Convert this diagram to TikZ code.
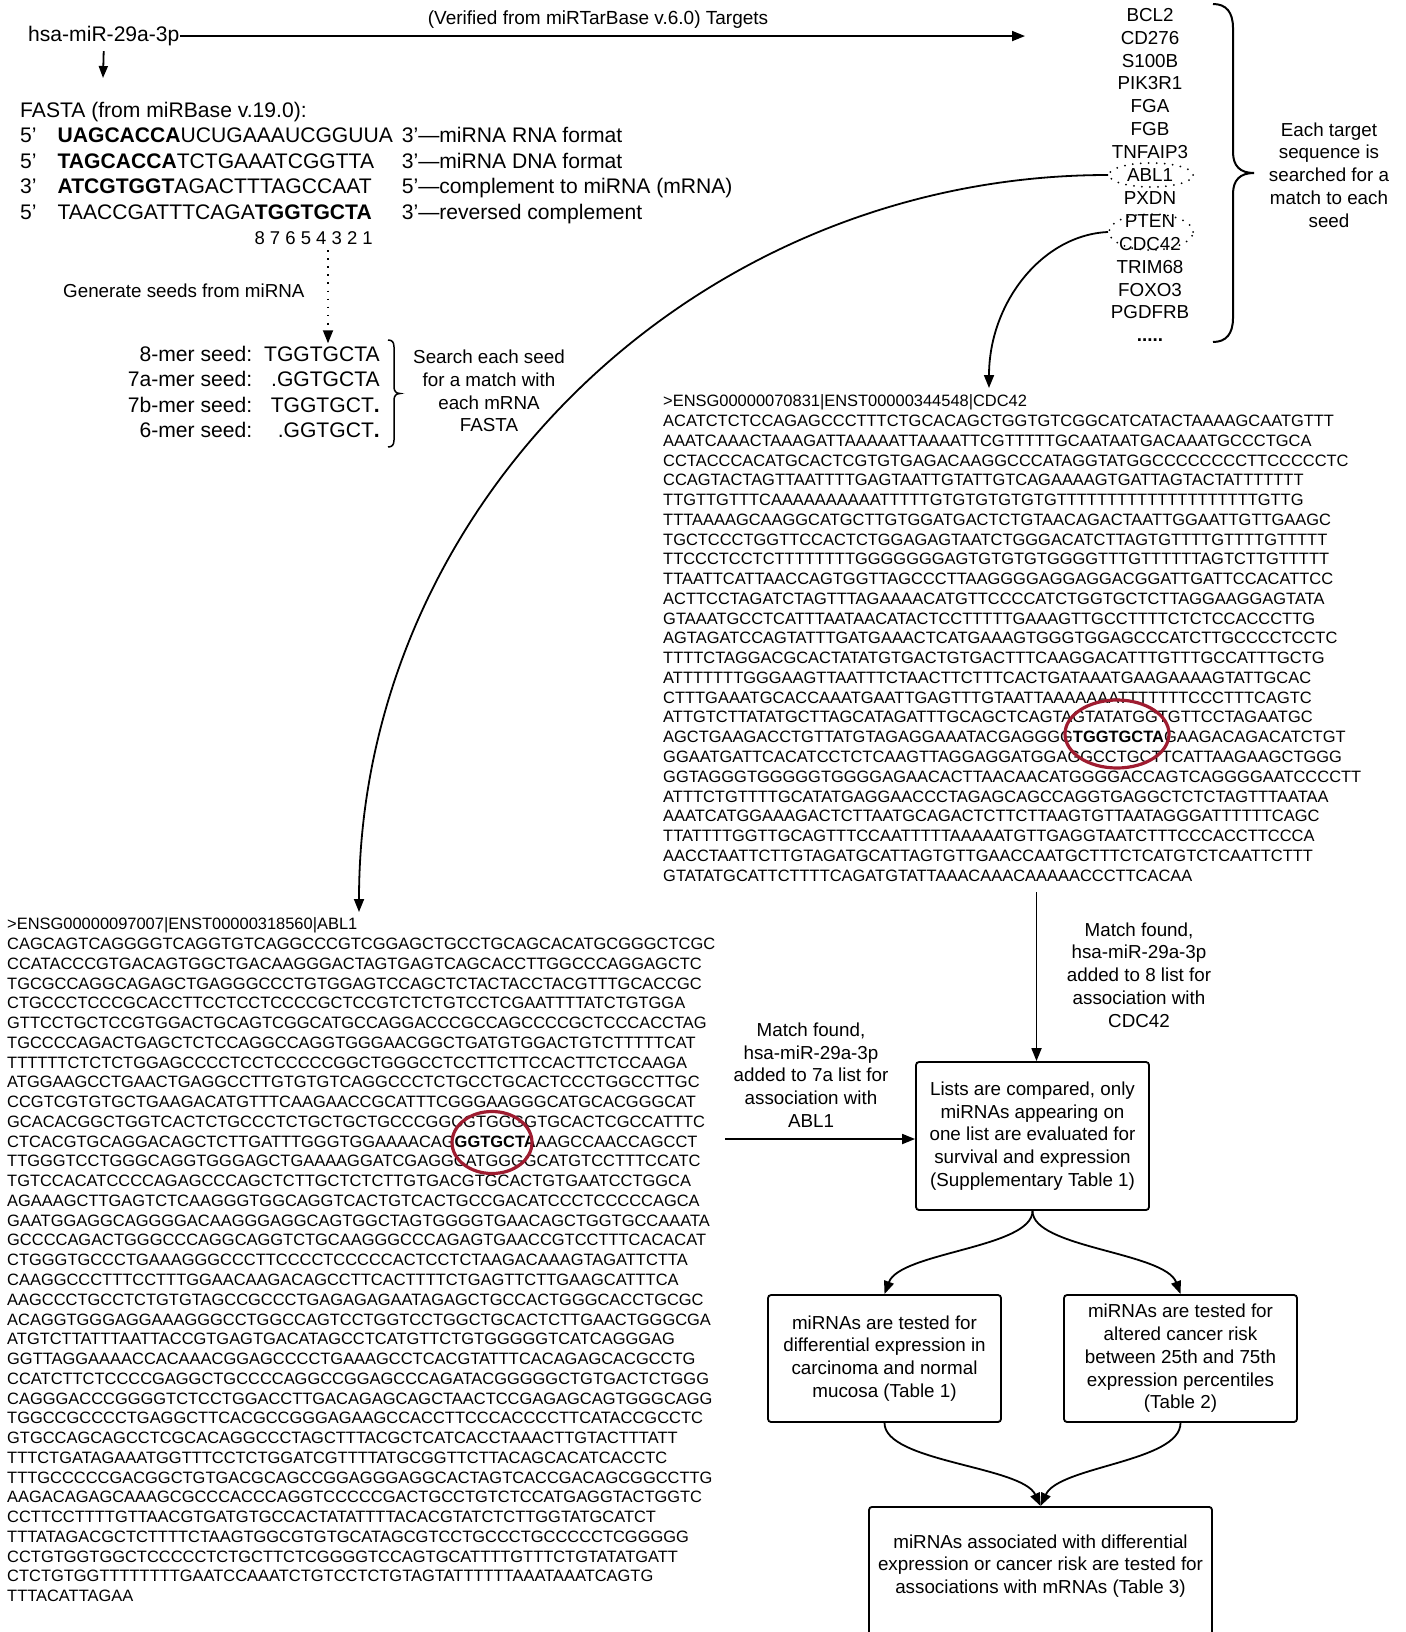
\documentclass[tikz,border=0pt]{standalone}
\usepackage{fontspec}
\setmainfont{Liberation Sans}
\usepackage{tikz}
\usetikzlibrary{arrows.meta,shapes.geometric}
\definecolor{hitRed}{RGB}{158,28,48}
\newcommand\seqfont{\fontsize{16.45}{19.76}\selectfont}
\newcommand\bigfont{\fontsize{21.1}{25.5}\selectfont}
\newcommand\lblfont{\fontsize{18.8}{22.8}\selectfont}

\begin{document}
\begin{tikzpicture}[x=1pt,y=-1pt,
      font=\lblfont, >={Triangle[length=13pt,width=10pt]},
      lbl/.style={align=center,inner sep=0pt,font=\lblfont},
      blk/.style={inner sep=0pt,anchor=base west},
      seq/.style={inner sep=0pt,anchor=base west,font=\seqfont},
      bx/.style={draw,line width=1.8pt,rounded corners=3pt,align=center,
                 minimum width=233pt,inner sep=0pt,font=\lblfont},
      pick/.style={ellipse,draw,line width=2pt,dash pattern=on 0pt off 8pt,line cap=round,
                   minimum width=84pt,minimum height=24pt,inner sep=0pt},
      hit/.style={ellipse,draw=hitRed,line width=3.2pt,inner sep=0pt},
      ar/.style={->,line width=1.8pt}]

    \useasboundingbox (0,0) rectangle (1405,1632);
    \clip (0,0) rectangle (1405,1632);

    \node[blk,font=\bigfont] (mir) at (28,41.5) {hsa-miR-29a-3p};
    \coordinate (tgt) at (1025,37);
    \draw[ar] (mir.east) -- (mir.east -| tgt);
    \node[lbl,font=\fontsize{19}{22}\selectfont] (via) at (598,20) {(Verified from miRTarBase v.6.0) Targets};
    \coordinate (fain) at (103,78);
    \draw[ar,shorten <=5pt,-{Triangle[length=12pt,width=9pt]}] (mir.south) -- (fain);

    \node[blk,font=\bigfont] (fasta) at (20,117.3) {\begin{tabular}[t]{@{}l@{\hspace{21pt}}l@{\hspace{9pt}}l@{}}
       \multicolumn{3}{@{}l@{}}{FASTA (from miRBase v.19.0):}\\
       5’ & \textbf{UAGCACCA}UCUGAAAUCGGUUA & 3’—miRNA RNA format\\
       5’ & \textbf{TAGCACCA}TCTGAAATCGGTTA & 3’—miRNA DNA format\\
       3’ & \textbf{ATCGTGGT}AGACTTTAGCCAAT & 5’—complement to miRNA (mRNA)\\
       5’ & TAACCGATTTCAGA\textbf{TGGTGCTA} & 3’—reversed complement
     \end{tabular}};
    \node[blk,anchor=base east,font=\fontsize{18.5}{20}\selectfont] (dig) at (373,244.6) {8 7 6 5 4 3 2 1};

    \node[lbl,anchor=west] (gentxt) at (63,291) {Generate seeds from miRNA};
    \node[blk,anchor=base east,font=\bigfont] (seeds) at (380,361.3) {\begin{tabular}[t]{@{}r@{\hspace{12pt}}r@{}}
       8-mer seed: & TGGTGCTA\\
       7a-mer seed: & .GGTGCTA\\
       7b-mer seed: & TGGTGCT\textbf{.}\\
       6-mer seed: & .GGTGCT\textbf{.}
     \end{tabular}};
    \coordinate (gen) at (328,250);
    \draw[ar,dash pattern=on 1.6pt off 6.5pt] (gen) -- (gen |- seeds.north);
    \draw[line width=1.5pt] (388,340) .. controls (392,340) and (394,342) .. (394,347) -- (394,387)
       .. controls (394,391) and (396,393.5) .. (400,393.5) .. controls (396,393.5) and (394,396) .. (394,400)
       -- (394,440) .. controls (394,445) and (392,447) .. (388,447);
    \node[lbl] (srch) at (489,391) {Search each seed\\for a match with\\each mRNA\\FASTA};

    \node[blk,anchor=base,font=\fontsize{18.8}{22.9}\selectfont] (genes) at (1150,21.3) {\begin{tabular}[t]{@{}c@{}}
       BCL2\\ CD276\\ S100B\\ PIK3R1\\ FGA\\ FGB\\ TNFAIP3\\ ABL1\\ PXDN\\ PTEN\\ CDC42\\ TRIM68\\ FOXO3\\ PGDFRB\\ \textbf{.....}
     \end{tabular}};
    \node[pick] (abl) at (1151,175) {};
    \node[pick,minimum height=36pt] (cdc) at (1151,232) {};
    \draw[line width=2pt] (1213,4) .. controls (1226,4) and (1233,12) .. (1233,28) -- (1233,152)
       .. controls (1233,166) and (1240,173) .. (1254,173) .. controls (1240,173) and (1233,180) .. (1233,194)
       -- (1233,318) .. controls (1233,334) and (1226,342) .. (1213,342);
    \node[lbl] (each) at (1329,175) {Each target\\sequence is\\searched for a\\match to each\\seed};

    \node[seq] (cdcseq) at (663,406.8) {\begin{tabular}[t]{@{}l@{}}
       >ENSG00000070831|ENST00000344548|CDC42\\
       ACATCTCTCCAGAGCCCTTTCTGCACAGCTGGTGTCGGCATCATACTAAAAGCAATGTTT\\
       AAATCAAACTAAAGATTAAAAATTAAAATTCGTTTTTGCAATAATGACAAATGCCCTGCA\\
       CCTACCCACATGCACTCGTGTGAGACAAGGCCCATAGGTATGGCCCCCCCCTTCCCCCTC\\
       CCAGTACTAGTTAATTTTGAGTAATTGTATTGTCAGAAAAGTGATTAGTACTATTTTTTT\\
       TTGTTGTTTCAAAAAAAAAATTTTTGTGTGTGTGTGTTTTTTTTTTTTTTTTTTTTGTTG\\
       TTTAAAAGCAAGGCATGCTTGTGGATGACTCTGTAACAGACTAATTGGAATTGTTGAAGC\\
       TGCTCCCTGGTTCCACTCTGGAGAGTAATCTGGGACATCTTAGTGTTTTGTTTTGTTTTT\\
       TTCCCTCCTCTTTTTTTTGGGGGGGAGTGTGTGTGGGGTTTGTTTTTTAGTCTTGTTTTT\\
       TTAATTCATTAACCAGTGGTTAGCCCTTAAGGGGAGGAGGACGGATTGATTCCACATTCC\\
       ACTTCCTAGATCTAGTTTAGAAAACATGTTCCCCATCTGGTGCTCTTAGGAAGGAGTATA\\
       GTAAATGCCTCATTTAATAACATACTCCTTTTTGAAAGTTGCCTTTTCTCTCCACCCTTG\\
       AGTAGATCCAGTATTTGATGAAACTCATGAAAGTGGGTGGAGCCCATCTTGCCCCTCCTC\\
       TTTTCTAGGACGCACTATATGTGACTGTGACTTTCAAGGACATTTGTTTGCCATTTGCTG\\
       ATTTTTTTGGGAAGTTAATTTCTAACTTCTTTCACTGATAAATGAAGAAAAGTATTGCAC\\
       CTTTGAAATGCACCAAATGAATTGAGTTTGTAATTAAAAAAATTTTTTTCCCTTTCAGTC\\
       ATTGTCTTATATGCTTAGCATAGATTTGCAGCTCAGTAGTATATGGTGTTCCTAGAATGC\\
       AGCTGAAGACCTGTTATGTAGAGGAAATACGAGGGG\textbf{TGGTGCTA}GAAGACAGACATCTGT\\
       GGAATGATTCACATCCTCTCAAGTTAGGAGGATGGAGGCCTGCTTCATTAAGAAGCTGGG\\
       GGTAGGGTGGGGGTGGGGAGAACACTTAACAACATGGGGACCAGTCAGGGGAATCCCCTT\\
       ATTTCTGTTTTGCATATGAGGAACCCTAGAGCAGCCAGGTGAGGCTCTCTAGTTTAATAA\\
       AAATCATGGAAAGACTCTTAATGCAGACTCTTCTTAAGTGTTAATAGGGATTTTTTCAGC\\
       TTATTTTGGTTGCAGTTTCCAATTTTTAAAAATGTTGAGGTAATCTTTCCCACCTTCCCA\\
       AACCTAATTCTTGTAGATGCATTAGTGTTGAACCAATGCTTTCTCATGTCTCAATTCTTT\\
       GTATATGCATTCTTTTCAGATGTATTAAACAAACAAAAACCCTTCACAA
     \end{tabular}};
    \node[hit,minimum width=104pt,minimum height=68pt] (hitcdc) at (1117,734) {};

    \node[seq] (ablseq) at (7,929.8) {\begin{tabular}[t]{@{}l@{}}
       >ENSG00000097007|ENST00000318560|ABL1\\
       CAGCAGTCAGGGGTCAGGTGTCAGGCCCGTCGGAGCTGCCTGCAGCACATGCGGGCTCGC\\
       CCATACCCGTGACAGTGGCTGACAAGGGACTAGTGAGTCAGCACCTTGGCCCAGGAGCTC\\
       TGCGCCAGGCAGAGCTGAGGGCCCTGTGGAGTCCAGCTCTACTACCTACGTTTGCACCGC\\
       CTGCCCTCCCGCACCTTCCTCCTCCCCGCTCCGTCTCTGTCCTCGAATTTTATCTGTGGA\\
       GTTCCTGCTCCGTGGACTGCAGTCGGCATGCCAGGACCCGCCAGCCCCGCTCCCACCTAG\\
       TGCCCCAGACTGAGCTCTCCAGGCCAGGTGGGAACGGCTGATGTGGACTGTCTTTTTCAT\\
       TTTTTTCTCTCTGGAGCCCCTCCTCCCCCGGCTGGGCCTCCTTCTTCCACTTCTCCAAGA\\
       ATGGAAGCCTGAACTGAGGCCTTGTGTGTCAGGCCCTCTGCCTGCACTCCCTGGCCTTGC\\
       CCGTCGTGTGCTGAAGACATGTTTCAAGAACCGCATTTCGGGAAGGGCATGCACGGGCAT\\
       GCACACGGCTGGTCACTCTGCCCTCTGCTGCTGCCCGGCGTGGGGTGCACTCGCCATTTC\\
       CTCACGTGCAGGACAGCTCTTGATTTGGGTGGAAAACAG\textbf{GGTGCTA}AAGCCAACCAGCCT\\
       TTGGGTCCTGGGCAGGTGGGAGCTGAAAAGGATCGAGGCATGGGGCATGTCCTTTCCATC\\
       TGTCCACATCCCCAGAGCCCAGCTCTTGCTCTCTTGTGACGTGCACTGTGAATCCTGGCA\\
       AGAAAGCTTGAGTCTCAAGGGTGGCAGGTCACTGTCACTGCCGACATCCCTCCCCCAGCA\\
       GAATGGAGGCAGGGGACAAGGGAGGCAGTGGCTAGTGGGGTGAACAGCTGGTGCCAAATA\\
       GCCCCAGACTGGGCCCAGGCAGGTCTGCAAGGGCCCAGAGTGAACCGTCCTTTCACACAT\\
       CTGGGTGCCCTGAAAGGGCCCTTCCCCTCCCCCACTCCTCTAAGACAAAGTAGATTCTTA\\
       CAAGGCCCTTTCCTTTGGAACAAGACAGCCTTCACTTTTCTGAGTTCTTGAAGCATTTCA\\
       AAGCCCTGCCTCTGTGTAGCCGCCCTGAGAGAGAATAGAGCTGCCACTGGGCACCTGCGC\\
       ACAGGTGGGAGGAAAGGGCCTGGCCAGTCCTGGTCCTGGCTGCACTCTTGAACTGGGCGA\\
       ATGTCTTATTTAATTACCGTGAGTGACATAGCCTCATGTTCTGTGGGGGTCATCAGGGAG\\
       GGTTAGGAAAACCACAAACGGAGCCCCTGAAAGCCTCACGTATTTCACAGAGCACGCCTG\\
       CCATCTTCTCCCCGAGGCTGCCCCAGGCCGGAGCCCAGATACGGGGGCTGTGACTCTGGG\\
       CAGGGACCCGGGGTCTCCTGGACCTTGACAGAGCAGCTAACTCCGAGAGCAGTGGGCAGG\\
       TGGCCGCCCCTGAGGCTTCACGCCGGGAGAAGCCACCTTCCCACCCCTTCATACCGCCTC\\
       GTGCCAGCAGCCTCGCACAGGCCCTAGCTTTACGCTCATCACCTAAACTTGTACTTTATT\\
       TTTCTGATAGAAATGGTTTCCTCTGGATCGTTTTATGCGGTTCTTACAGCACATCACCTC\\
       TTTGCCCCCGACGGCTGTGACGCAGCCGGAGGGAGGCACTAGTCACCGACAGCGGCCTTG\\
       AAGACAGAGCAAAGCGCCCACCCAGGTCCCCCGACTGCCTGTCTCCATGAGGTACTGGTC\\
       CCTTCCTTTTGTTAACGTGATGTGCCACTATATTTTACACGTATCTCTTGGTATGCATCT\\
       TTTATAGACGCTCTTTTCTAAGTGGCGTGTGCATAGCGTCCTGCCCTGCCCCCTCGGGGG\\
       CCTGTGGTGGCTCCCCCTCTGCTTCTCGGGGTCCAGTGCATTTTGTTTCTGTATATGATT\\
       CTCTGTGGTTTTTTTTGAATCCAAATCTGTCCTCTGTAGTATTTTTTAAATAAATCAGTG\\
       TTTACATTAGAA
     \end{tabular}};
    \node[hit,minimum width=80pt,minimum height=62pt] (hitabl) at (492,1142.5) {};

    \coordinate (ablin) at (359,912);
    \coordinate (cdcin) at (989,388);
    \draw[ar] (abl.west) .. controls (695,175) and (359,505) .. (ablin);
    \draw[ar] (cdc.west) .. controls (1042,235) and (989,303) .. (cdcin);

    \node[bx,minimum height=148pt] (b1) at (1032.5,1136) {Lists are compared, only\\miRNAs appearing on\\one list are evaluated for\\survival and expression\\(Supplementary Table 1)};
    \node[bx,minimum height=127pt] (b2) at (884.5,1358.5) {miRNAs are tested for\\differential expression in\\carcinoma and normal\\mucosa (Table 1)};
    \node[bx,minimum height=127pt] (b3) at (1180.5,1358.5) {miRNAs are tested for\\altered cancer risk\\between 25th and 75th\\expression percentiles\\(Table 2)};
    \node[bx,minimum width=343pt,minimum height=150pt,anchor=north] (b4) at (1040.5,1506) {};
    \node[lbl] (b4txt) at (1040.5,1566) {miRNAs associated with differential\\expression or cancer risk are tested for\\associations with mRNAs (Table 3)};

    \node[lbl] (m8) at (1139,975) {Match found,\\hsa-miR-29a-3p\\added to 8 list for\\association with\\CDC42};
    \node[lbl] (m7) at (811,1075) {Match found,\\hsa-miR-29a-3p\\added to 7a list for\\association with\\ABL1};

    \coordinate (cdcout) at (1036.5,892);
    \draw[ar] (cdcout) -- (cdcout |- b1.north);
    \coordinate (ablout) at (725,1139);
    \draw[ar] (ablout) -- (ablout -| b1.west);

    \draw[ar] (b1.south) .. controls (1032.5,1248) and (900,1252) .. (b2.north);
    \draw[ar] (b1.south) .. controls (1032.5,1248) and (1165,1252) .. (b3.north);
    \draw[ar] (b2.south) .. controls (884.5,1462) and (1022,1466) .. (b4.north);
    \draw[ar] (b3.south) .. controls (1180.5,1462) and (1059,1466) .. (b4.north);
  \end{tikzpicture}
\end{document}
